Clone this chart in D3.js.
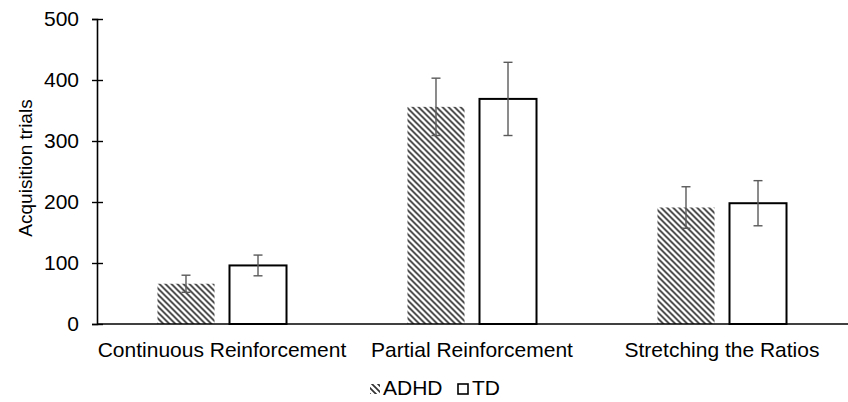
<!DOCTYPE html>
<html>
<head>
<meta charset="utf-8" />
<title>Acquisition trials</title>
<script src="https://cdn.jsdelivr.net/npm/d3@7/dist/d3.min.js"></script>
<style>
  html, body { margin: 0; padding: 0; background: #fff; }
  svg { display: block; }
  text { font-family: "Liberation Sans", Arial, sans-serif; fill: #000; }
</style>
</head>
<body>
<svg id="chart" width="848" height="402"></svg>
<script>
// data
const categories = ["Continuous Reinforcement", "Partial Reinforcement", "Stretching the Ratios"];
const series = ["ADHD", "TD"];
const adhdValues = [66, 356, 191];
const adhdErr = [14, 47, 34];
const tdValues = [96, 369, 198];
const tdErr = [17, 60, 37];
const yTicks = [0, 100, 200, 300, 400, 500];

const values = { ADHD: adhdValues, TD: tdValues };
const errs = { ADHD: adhdErr, TD: tdErr };

const svg = d3.select("#chart");
const plotLeft = 97, plotRight = 847, plotTop = 19, plotBottom = 324;

const y = d3.scaleLinear().domain([0, 500]).range([plotBottom, plotTop]);
const x = d3.scaleBand().domain(categories).range([plotLeft, plotRight]);
const xs = d3.scaleBand().domain(series).range([0, x.bandwidth()])
  .paddingInner(0.2083).paddingOuter(0.84);

// hatch pattern
const defs = svg.append("defs");
const pat = defs.append("pattern")
  .attr("id", "hatch")
  .attr("patternUnits", "userSpaceOnUse")
  .attr("width", 6).attr("height", 6);
pat.append("path")
  .attr("d", "M-1.5,-1.5 L7.5,7.5 M-1.5,4.5 L1.5,7.5 M4.5,-1.5 L7.5,1.5")
  .attr("stroke", "#333")
  .attr("stroke-width", 1.7);

// bars
const rows = [];
categories.forEach((c, i) => {
  series.forEach(s => rows.push({ cat: c, s: s, v: values[s][i], e: errs[s][i] }));
});

const bars = svg.append("g").selectAll("g")
  .data(rows)
  .enter()
  .append("g")
  .attr("transform", d => "translate(" + (x(d.cat) + xs(d.s)) + ",0)");

bars.append("rect")
  .attr("y", d => y(d.v))
  .attr("width", xs.bandwidth())
  .attr("height", d => y(0) - y(d.v))
  .attr("fill", d => d.s == "ADHD" ? "url(#hatch)" : "#fff")
  .attr("stroke", d => d.s == "TD" ? "#000" : "none")
  .attr("stroke-width", 2);

// error bars
const cx = xs.bandwidth() / 2;
bars.append("line")
  .attr("x1", cx).attr("x2", cx)
  .attr("y1", d => y(d.v + d.e)).attr("y2", d => y(d.v - d.e))
  .attr("stroke", "#5a5a5a").attr("stroke-width", 1.4);
bars.append("line")
  .attr("x1", cx - 4.5).attr("x2", cx + 4.5)
  .attr("y1", d => y(d.v + d.e)).attr("y2", d => y(d.v + d.e))
  .attr("stroke", "#5a5a5a").attr("stroke-width", 1.4);
bars.append("line")
  .attr("x1", cx - 4.5).attr("x2", cx + 4.5)
  .attr("y1", d => y(d.v - d.e)).attr("y2", d => y(d.v - d.e))
  .attr("stroke", "#5a5a5a").attr("stroke-width", 1.4);

// y axis
const yAxis = svg.append("g")
  .attr("transform", "translate(" + plotLeft + ",0)")
  .call(d3.axisLeft(y).tickValues(yTicks).tickSize(5).tickPadding(13));
yAxis.select(".domain").attr("stroke", "#000").attr("stroke-width", 1.6);
yAxis.selectAll(".tick line").attr("x1", 6).attr("x2", -5)
  .attr("stroke", "#000").attr("stroke-width", 1.4);
yAxis.selectAll(".tick text")
  .style("font-family", "'Liberation Sans', Arial, sans-serif")
  .style("font-size", "21px").attr("fill", "#000");

// x axis line
svg.append("line")
  .attr("x1", plotLeft).attr("x2", plotRight + 1)
  .attr("y1", plotBottom).attr("y2", plotBottom)
  .attr("stroke", "#000").attr("stroke-width", 1.6);

// category labels
svg.append("g").selectAll("text")
  .data(categories)
  .enter()
  .append("text")
  .attr("x", d => x(d) + x.bandwidth() / 2)
  .attr("y", 357)
  .attr("text-anchor", "middle")
  .style("font-size", "21px")
  .text(d => d);

// y label
svg.append("text")
  .attr("transform", "translate(32,168) rotate(-90)")
  .attr("text-anchor", "middle")
  .style("font-size", "19px")
  .text("Acquisition trials");

// legend
const legend = svg.append("g");
const legendX = [370, 457];
legend.selectAll("rect")
  .data(series)
  .enter()
  .append("rect")
  .attr("x", (d, i) => legendX[i] + (i ? 1 : 0))
  .attr("y", 384)
  .attr("width", 10).attr("height", 10)
  .attr("fill", d => d == "ADHD" ? "url(#hatch)" : "#fff")
  .attr("stroke", d => d == "TD" ? "#000" : "none")
  .attr("stroke-width", 1.6);
legend.selectAll("text")
  .data(series)
  .enter()
  .append("text")
  .attr("x", (d, i) => legendX[i] + (i ? 15 : 13))
  .attr("y", 395)
  .style("font-size", "21px")
  .text(d => d);
</script>
</body>
</html>
